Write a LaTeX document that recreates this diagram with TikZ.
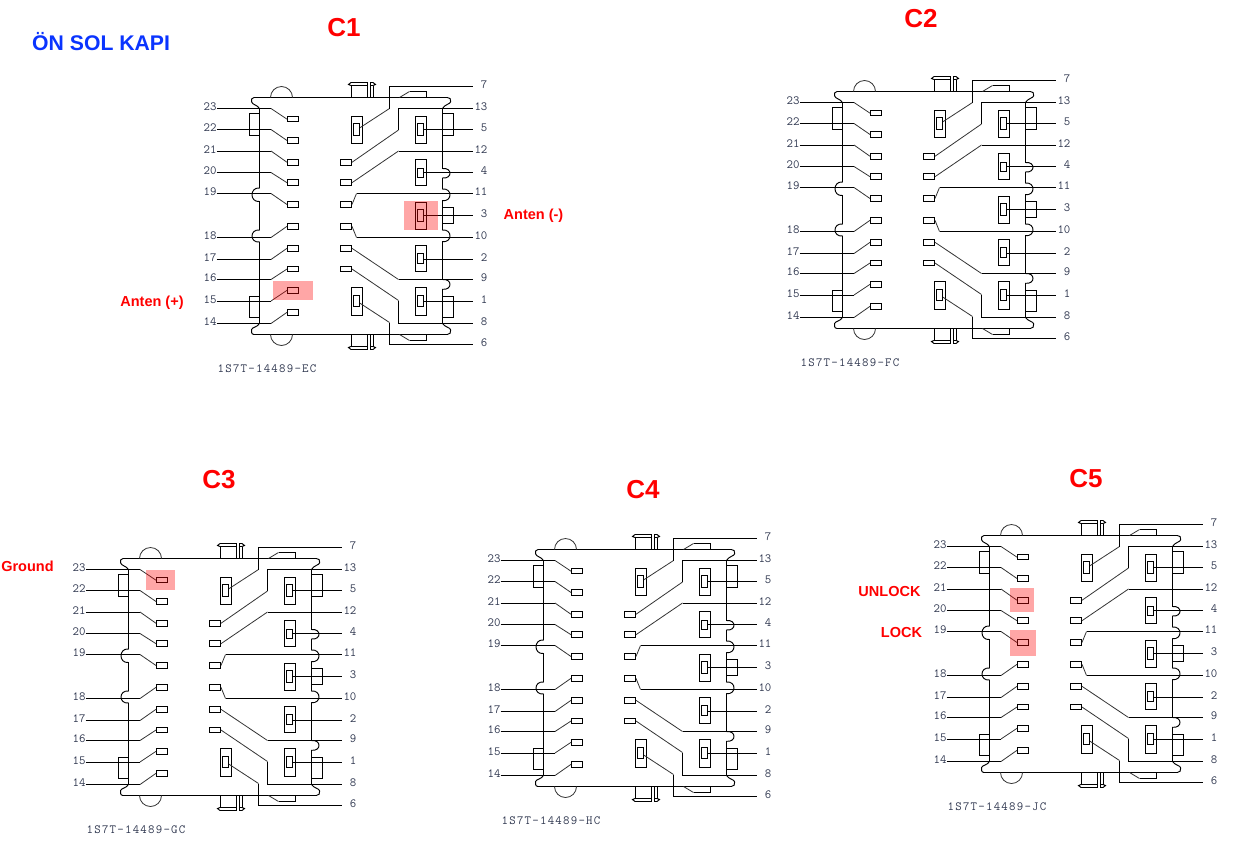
\documentclass[tikz,border=0pt]{standalone}
\usepackage{fontspec}
\setmainfont{Liberation Sans}
\newfontfamily\pinfont{Latin Modern Mono}
\newfontfamily\partfont[LetterSpace=10]{Latin Modern Mono}
\usepackage{xcolor}
\definecolor{pintext}{HTML}{303850}
\definecolor{titleblue}{HTML}{0A34FF}
\tikzset{
  wire/.style={black, line width=0.95pt},
  thinwire/.style={black!80, line width=0.8pt},
  padbox/.style={draw=black, line width=0.95pt, inner sep=0, minimum width=11pt, minimum height=5.5pt},
  switchbox/.style={draw=black, line width=0.95pt, inner sep=0, minimum width=11pt},
  slotbox/.style={draw=black, line width=0.95pt, inner sep=0, minimum width=6pt},
  leftpin/.style={inner sep=0, text=pintext, text height=7.6pt, text depth=3.6pt, font=\pinfont\fontsize{12.5}{12.5}\selectfont},
  rightpin/.style={leftpin, text width=14pt, align=right},
  partname/.style={inner sep=0, text=pintext, font=\partfont\fontsize{12.5}{12.5}\selectfont},
  plugtitle/.style={inner sep=0, anchor=base, text=red, font=\bfseries\fontsize{26}{26}\selectfont},
  signame/.style={inner sep=0, anchor=base, text=red, font=\bfseries\fontsize{14.5}{14.5}\selectfont},
  marked/.style={fill=red, opacity=0.35}
}
% one connector, drawn at the place of C1 and then shifted
\newcommand\doorplug[4]{
  \begin{scope}[shift={(#2,#3)}]
    \draw[wire] (254,97.5)--(447.3,97.5) .. controls (450,97.5) and (451,99) .. (450.7,101.7) .. controls (450.4,104) and (444.5,104.5) .. (442.5,108.5)
      --(442.5,168.5) .. controls (452.5,167.5) and (452.5,179) .. (442.5,178)
      --(442.5,189) .. controls (452.5,188) and (452.5,201.7) .. (442.5,200.7)
      --(442.5,230) .. controls (452.5,229) and (452.5,242.7) .. (442.5,241.7)
      --(442.5,279.5) .. controls (452.5,278.5) and (452.5,290.3) .. (442.5,289.3)
      --(442.5,323.5) .. controls (444.5,327) and (450.4,327.5) .. (450.7,329.9) .. controls (451,332.5) and (450,334.5) .. (447.3,334.5)--(254,334.5)
      .. controls (251,334.5) and (251.4,331) .. (251.7,329.3) .. controls (252,327.5) and (257.5,327) .. (259.5,323.5)
      --(259.5,242) .. controls (249.5,243) and (249.5,229) .. (259.5,230)
      --(259.5,201.5) .. controls (249.5,202.5) and (249.5,187) .. (259.5,188)
      --(259.5,108.5) .. controls (257.5,105) and (252,104.5) .. (251.7,102) .. controls (251.4,100) and (251,97.5) .. (254,97.5);
    % top end and bottom end are mirror images
    \foreach \sy/\oy in {1/0, -1/432}{
      \begin{scope}[shift={(0,\oy)}, yscale=\sy]
        \draw[thinwire] (270.5,97.5) arc[start angle=180, end angle=360, radius=11];
        \draw[wire] (351.5,97.5)--(351.5,85.5);
        \draw[wire] (367.5,97.5)--(367.5,85.5);
        \draw[wire] (370.5,97.5)--(370.5,85.5);
        \draw[wire] (373.5,97.5)--(373.5,85.5);
        \draw[wire] (348.5,84.5)--(351,82.5)--(367.5,82.5)--(367.5,85.5)--(351,85.5)--cycle;
        \draw[wire] (370.5,82.5)--(373,82.5)--(375.5,84.5)--(373,85.5)--(370.5,85.5)--cycle;
        \draw[thinwire] (399.5,97.5)--(409.5,91.5);
        \draw[wire] (409.5,91.5)--(426.5,91.5)--(426.5,97.5);
      \end{scope}
    }
    % side lugs
    \draw[wire] (259.5,113.5)--(249.5,113.5)--(249.5,135.5)--(259.5,135.5);
    \draw[wire] (259.5,296.5)--(249.5,296.5)--(249.5,317.5)--(259.5,317.5);
    \draw[wire] (442.5,113.5)--(453.5,113.5)--(453.5,135.5)--(442.5,135.5);
    \draw[wire] (442.5,207.5)--(453.5,207.5)--(453.5,223.5)--(442.5,223.5);
    \draw[wire] (442.5,296.5)--(453.5,296.5)--(453.5,317.5)--(442.5,317.5);
    % left row
    \foreach \num/\wy/\py in {23/108.5/119.2, 22/129.5/140.5, 21/151/162.3, 20/172.5/182.7, 19/193.5/204.5,
                              18/237.5/226.3, 17/259.5/248.3, 16/279.5/269, 15/301/290.3, 14/323.5/312.3}{
      \node[leftpin] (#1l\num) at (210,\wy) {\num};
      \node[padbox] (#1a\num) at (293,\py) {};
      \draw[wire] (#1l\num.east)--(271,\wy);
      \draw[thinwire] (271,\wy)--(#1a\num.west);
    }
    % middle row of pads
    \foreach \num/\py in {a/162.3, b/182.7, c/204.5, d/226.3, e/248.3, f/269}{
      \node[padbox] (#1m\num) at (346,\py) {};
    }
    % switches
    \foreach \num/\cx/\cy/\hh/\iy/\ih in {7/357/130/27/129.7/11.5, 6/357/301.5/28/301.2/10.5, 5/421/130/27/129.7/11.5,
                                          4/421/172.5/26/173/9, 3/421/216/27/215.7/11.5, 2/421/258.5/26/258.5/10, 1/421/301.5/28/301.2/10.5}{
      \node[switchbox, minimum height=\hh pt] (#1s\num) at (\cx,\cy) {};
      \node[slotbox, minimum height=\ih pt] (#1i\num) at (\cx-0.5,\iy) {};
    }
    % right row
    \foreach \num/\wy in {7/86.5, 13/108.5, 5/129.5, 12/151, 4/172.5, 11/193.5, 3/215.5,
                          10/237.5, 2/259.5, 9/279.5, 1/301, 8/323.5, 6/344.5}{
      \node[rightpin] (#1l\num) at (480.4,\wy) {\num};
    }
    \foreach \num in {5,4,3,2,1}{
      \draw[wire] (#1i\num.east |- #1l\num.west)--(#1l\num.west);
    }
    \draw[thinwire] ([yshift=2pt]#1i7.east)--(389.5,108.5);
    \draw[wire] (389.5,108.5)--(389.5,86.5)--(#1l7.west);
    \draw[thinwire] ([yshift=-2pt]#1i6.east)--(389.5,322.5);
    \draw[wire] (389.5,322.5)--(389.5,344.5)--(#1l6.west);
    \draw[thinwire] (#1ma.east)--(398.5,130);
    \draw[wire] (398.5,130)--(398.5,108.5)--(#1l13.west);
    \draw[thinwire] (#1mb.east)--(398.5,151);
    \draw[wire] (398.5,151)--(#1l12.west);
    \draw[thinwire] (#1mc.east)--(356.5,193.5);
    \draw[wire] (356.5,193.5)--(#1l11.west);
    \draw[thinwire] (#1md.east)--(356.5,237.5);
    \draw[wire] (356.5,237.5)--(#1l10.west);
    \draw[thinwire] (#1me.east)--(398.5,279.5);
    \draw[wire] (398.5,279.5)--(#1l9.west);
    \draw[thinwire] (#1mf.east)--(398.5,300.5);
    \draw[wire] (398.5,300.5)--(398.5,323.5)--(#1l8.west);
    \node[partname] (#1part) at (267,368.5) {#4};
  \end{scope}
}

\begin{document}
\begin{tikzpicture}[x=1pt, y=-1pt]
  \useasboundingbox (0,0) rectangle (1237,844);
  \doorplug{cone}{0}{0}{1S7T-14489-EC}
  \doorplug{ctwo}{583}{-6}{1S7T-14489-FC}
  \doorplug{cthree}{-131}{461}{1S7T-14489-GC}
  \doorplug{cfour}{284}{452}{1S7T-14489-HC}
  \doorplug{cfive}{730}{438}{1S7T-14489-JC}

  \node[plugtitle] (tone) at (344,36) {C1};
  \node[plugtitle] (ttwo) at (921,27) {C2};
  \node[plugtitle] (tthree) at (219,488) {C3};
  \node[plugtitle] (tfour) at (643,498) {C4};
  \node[plugtitle] (tfive) at (1086,487) {C5};
  \node[inner sep=0, anchor=base west, text=titleblue, font=\bfseries\fontsize{21.2}{21.2}\selectfont] (door) at (32,50) {ÖN SOL KAPI};

  \node[signame] (antplus) at (152,306) {Anten (+)};
  \node[signame] (antminus) at (533.5,219) {Anten (-)};
  \node[signame] (ground) at (27.5,571) {Ground};
  \node[signame] (unlock) at (889.5,596) {UNLOCK};
  \node[signame] (lock) at (901.5,637) {LOCK};

  \fill[marked] (273,281) rectangle (313,300);
  \fill[marked] (404,201) rectangle (438,230);
  \fill[marked] (146,570) rectangle (175,590);
  \fill[marked] (1010,588) rectangle (1034,612);
  \fill[marked] (1010,630) rectangle (1036,656);
\end{tikzpicture}
\end{document}
